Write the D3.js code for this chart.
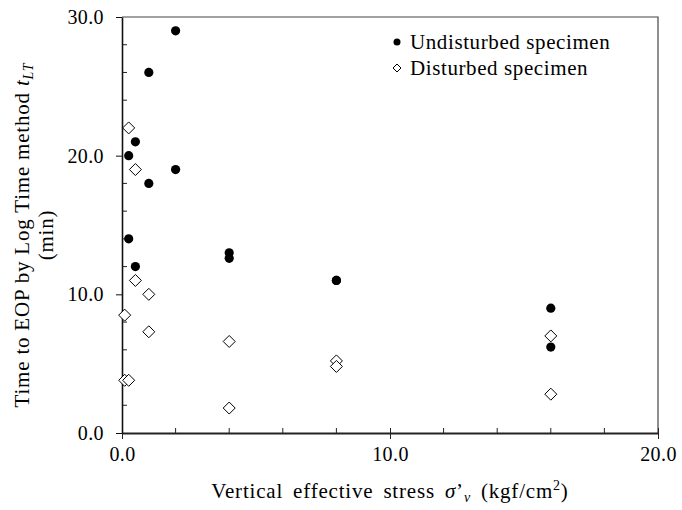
<!DOCTYPE html>
<html>
<head>
<meta charset="utf-8">
<script src="https://cdn.jsdelivr.net/npm/d3@7"></script>
<style>
  body { margin: 0; background: #fff; }
  text { font-family: "Liberation Serif", "Times New Roman", serif; fill: #000; }
</style>
</head>
<body>
<div id="chart-container"></div>
<script>
const width = 682;
const height = 510;

// Undisturbed specimen (filled circles)
const undisturbedX = [0.25, 0.25, 0.5, 0.5, 1, 1, 2, 2, 4, 4, 8, 8, 16, 16];
const undisturbedY = [20.0, 14.0, 21.0, 12.0, 26.0, 18.0, 29.0, 19.0, 13.0, 12.6, 11.0, 11.0, 9.0, 6.2];

// Disturbed specimen (open diamonds)
const disturbedX = [0.1, 0.1, 0.25, 0.25, 0.5, 0.5, 1, 1, 4, 4, 8, 8, 16, 16];
const disturbedY = [8.5, 3.8, 22.0, 3.8, 19.0, 11.0, 10.0, 7.3, 6.6, 1.8, 5.2, 4.8, 7.0, 2.8];

const xMajor = [0, 10, 20];
const xMinor = [2, 4, 6, 8, 12, 14, 16, 18];
const yMajor = [0, 10, 20, 30];
const yMinor = [2, 4, 6, 8, 12, 14, 16, 18, 22, 24, 26, 28];

const legendLabels = ["Undisturbed specimen", "Disturbed specimen"];

const margin = { top: 17, right: 24, bottom: 77, left: 122 };

const x = d3.scaleLinear([0, 20], [margin.left, width - margin.right]);
const y = d3.scaleLinear([0, 30], [height - margin.bottom, margin.top]);

const svg = d3.select("#chart-container")
    .append("svg")
    .attr("width", width)
    .attr("height", height)
    .attr("viewBox", [0, 0, width, height]);

// frame: top and right
svg.append("path")
    .attr("d", `M${x(0)},${y(30)}H${x(20)}V${y(0)}`)
    .attr("fill", "none")
    .attr("stroke", "#444")
    .attr("stroke-width", 1.2);

// minor ticks (inside)
svg.append("g").selectAll("line")
    .data(xMinor)
    .join("line")
    .attr("x1", d => x(d)).attr("x2", d => x(d))
    .attr("y1", y(0)).attr("y2", y(0) - 5)
    .attr("stroke", "#222");

svg.append("g").selectAll("line")
    .data(yMinor)
    .join("line")
    .attr("x1", x(0)).attr("x2", x(0) + 5)
    .attr("y1", d => y(d)).attr("y2", d => y(d))
    .attr("stroke", "#222");

// x axis
const xAxis = svg.append("g")
    .attr("transform", `translate(0,${y(0)})`)
    .call(d3.axisBottom(x).tickValues(xMajor).tickFormat(d3.format(".1f"))
        .tickSizeInner(6).tickSizeOuter(0).tickPadding(8));
xAxis.select(".domain").attr("stroke", "#222").attr("stroke-width", 2);
xAxis.selectAll(".tick line").attr("y1", -5).attr("stroke", "#222");
xAxis.selectAll(".tick text").attr("font-size", 20).attr("font-family", "Liberation Serif")
    .attr("letter-spacing", 0.4);

// y axis
const yAxis = svg.append("g")
    .attr("transform", `translate(${x(0)},0)`)
    .call(d3.axisLeft(y).tickValues(yMajor).tickFormat(d3.format(".1f"))
        .tickSizeInner(6).tickSizeOuter(0).tickPadding(12));
yAxis.select(".domain").attr("stroke", "#111").attr("stroke-width", 1.6);
yAxis.selectAll(".tick line").attr("stroke", "#111");
yAxis.selectAll(".tick text").attr("font-size", 20).attr("font-family", "Liberation Serif")
    .attr("letter-spacing", 0.4);

// data points
svg.append("g").selectAll("circle")
    .data(d3.zip(undisturbedX, undisturbedY))
    .join("circle")
    .attr("cx", d => x(d[0]))
    .attr("cy", d => y(d[1]))
    .attr("r", 4.6)
    .attr("fill", "#000");

const diamond = (cx, cy, r) => `M${cx},${cy - r}L${cx + r},${cy}L${cx},${cy + r}L${cx - r},${cy}Z`;

svg.append("g").selectAll("path")
    .data(d3.zip(disturbedX, disturbedY))
    .join("path")
    .attr("d", d => diamond(x(d[0]), y(d[1]), 6))
    .attr("fill", "#fff")
    .attr("stroke", "#000")
    .attr("stroke-width", 1);

// legend
const legend = svg.append("g").attr("transform", "translate(397,42)");
legend.append("circle").attr("cx", 0).attr("cy", 0).attr("r", 3.5).attr("fill", "#000");
legend.append("path").attr("d", diamond(0, 26, 4)).attr("fill", "#fff").attr("stroke", "#000");
legend.selectAll("text")
    .data(legendLabels)
    .join("text")
    .attr("x", 13)
    .attr("y", (d, i) => i * 26 + 7)
    .attr("font-size", 21)
    .attr("letter-spacing", 0.6)
    .text(d => d);

// x axis title
const xt = svg.append("text")
    .attr("x", x(10))
    .attr("y", 498)
    .attr("text-anchor", "middle")
    .attr("font-size", 21)
    .attr("letter-spacing", 0.8)
    .attr("word-spacing", 4);
xt.append("tspan").text("Vertical effective stress ");
xt.append("tspan").attr("font-style", "italic").text("σ");
xt.append("tspan").text("’");
xt.append("tspan").attr("font-style", "italic").attr("font-size", 14).attr("dy", 4).text("v");
xt.append("tspan").attr("dy", -4).text(" (kgf/cm");
xt.append("tspan").attr("font-size", 14).attr("dy", -8).text("2");
xt.append("tspan").attr("dy", 8).text(")");

// y axis title (two lines)
const yt = svg.append("g").attr("transform", `translate(0,${y(15) + 10}) rotate(-90)`);
const yl1 = yt.append("text")
    .attr("x", 0).attr("y", 29)
    .attr("text-anchor", "middle")
    .attr("font-size", 21)
    .attr("letter-spacing", 0.8);
yl1.append("tspan").text("Time to EOP by Log Time method ");
yl1.append("tspan").attr("font-style", "italic").text("t");
yl1.append("tspan").attr("font-style", "italic").attr("font-size", 14).attr("dy", 4).text("LT");
yt.append("text")
    .attr("x", 0).attr("y", 53)
    .attr("text-anchor", "middle")
    .attr("font-size", 21)
    .attr("letter-spacing", 0.8)
    .text("(min)");
</script>
</body>
</html>
